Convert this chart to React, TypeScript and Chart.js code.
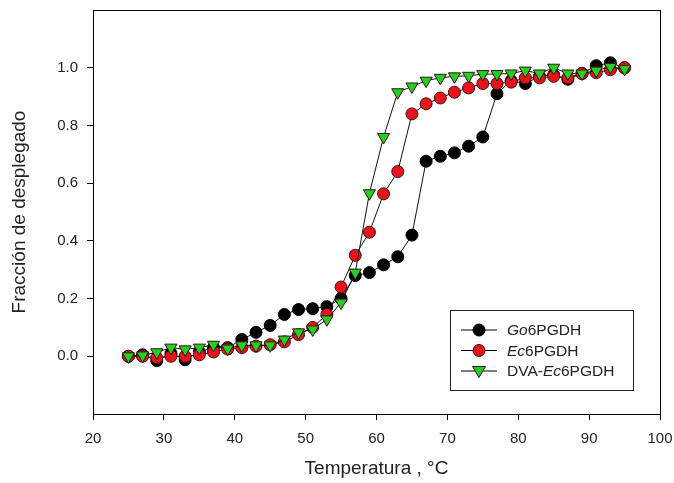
import React, { useEffect, useRef } from "react";
import { Chart, registerables } from "chart.js";

Chart.register(...registerables);

const temperatures = [
  25, 27, 29, 31, 33, 35, 37, 39, 41, 43, 45, 47, 49, 51, 53, 55, 57, 59,
  61, 63, 65, 67, 69, 71, 73, 75, 77, 79, 81, 83, 85, 87, 89, 91, 93, 95,
];

const goValues = [
  0.0, 0.005, -0.015, 0.01, -0.012, 0.015, 0.03, 0.03, 0.058, 0.083, 0.107,
  0.145, 0.162, 0.165, 0.172, 0.2, 0.28, 0.29, 0.317, 0.345, 0.42, 0.676,
  0.693, 0.705, 0.728, 0.76, 0.91, 0.955, 0.945, 0.97, 0.975, 0.96, 0.98,
  1.007, 1.017, 1.0,
];

const ecValues = [
  0.0, 0.0, -0.005, 0.0, 0.0, 0.005, 0.015, 0.025, 0.03, 0.035, 0.04, 0.05,
  0.075, 0.1, 0.145, 0.24, 0.35, 0.43, 0.563, 0.64, 0.84, 0.875, 0.895,
  0.915, 0.93, 0.945, 0.945, 0.95, 0.965, 0.965, 0.97, 0.965, 0.98, 0.983,
  0.993, 1.0,
];

const dvaValues = [
  0.0, 0.003, 0.014, 0.03, 0.024, 0.03, 0.04, 0.027, 0.038, 0.038, 0.038,
  0.058, 0.083, 0.093, 0.128, 0.186, 0.29, 0.565, 0.76, 0.915, 0.935, 0.955,
  0.965, 0.97, 0.972, 0.978, 0.978, 0.98, 0.99, 0.98, 1.0, 0.98, 0.98, 0.99,
  1.003, 0.996,
];

// legend label parts: [text, italic]
const legendLabels: [string, boolean][][] = [
  [["Go", true], ["6PGDH", false]],
  [["Ec", true], ["6PGDH", false]],
  [["DVA-", false], ["Ec", true], ["6PGDH", false]],
];

const xTitle = "Temperatura , °C";
const yTitle = "Fracción de desplegado";

const FONT = "Arial, 'Liberation Sans', sans-serif";
const BLACK = "#000000";
const RED = "#e8141c";
const GREEN = "#22d022";
const EDGE = "#3a1010";

const framePlugin = {
  id: "frame",
  afterDraw(chart: any) {
    const { ctx, chartArea } = chart;
    ctx.save();
    ctx.strokeStyle = "#000";
    ctx.lineWidth = 1;
    ctx.strokeRect(
      Math.round(chartArea.left) + 0.5,
      Math.round(chartArea.top) + 0.5,
      Math.round(chartArea.right - chartArea.left),
      Math.round(chartArea.bottom - chartArea.top)
    );
    ctx.restore();
  },
};

const legendPlugin = {
  id: "customLegend",
  afterDraw(chart: any) {
    const { ctx, chartArea } = chart;
    const boxRight = chartArea.right - 27;
    const boxLeft = boxRight - 183;
    const boxTop = chartArea.top + 300;
    const boxBottom = boxTop + 80;
    ctx.save();
    ctx.fillStyle = "#fff";
    ctx.fillRect(boxLeft, boxTop, boxRight - boxLeft, boxBottom - boxTop);
    ctx.strokeStyle = "#222";
    ctx.lineWidth = 1;
    ctx.strokeRect(boxLeft + 0.5, boxTop + 0.5, boxRight - boxLeft, boxBottom - boxTop);
    const styles = [
      { fill: BLACK, shape: "circle" },
      { fill: RED, shape: "circle" },
      { fill: GREEN, shape: "triangle" },
    ];
    legendLabels.forEach((parts, i) => {
      const y = boxTop + 20 + i * 20.5;
      const lx0 = boxLeft + 11;
      const lx1 = boxLeft + 47;
      const mx = (lx0 + lx1) / 2;
      ctx.strokeStyle = "#000";
      ctx.lineWidth = 1;
      ctx.beginPath();
      ctx.moveTo(lx0, y);
      ctx.lineTo(lx1, y);
      ctx.stroke();
      ctx.fillStyle = styles[i].fill;
      ctx.strokeStyle = i === 0 ? "#000" : EDGE;
      ctx.beginPath();
      if (styles[i].shape === "circle") {
        ctx.arc(mx, y, 6, 0, Math.PI * 2);
      } else {
        ctx.moveTo(mx - 6.5, y - 4.5);
        ctx.lineTo(mx + 6.5, y - 4.5);
        ctx.lineTo(mx, y + 6.5);
        ctx.closePath();
      }
      ctx.fill();
      ctx.stroke();
      let tx = boxLeft + 57;
      ctx.fillStyle = "#222";
      ctx.textBaseline = "middle";
      ctx.textAlign = "left";
      parts.forEach(([text, italic]) => {
        ctx.font = `${italic ? "italic " : ""}15.5px ${FONT}`;
        ctx.fillText(text, tx, y + 1);
        tx += ctx.measureText(text).width;
      });
    });
    ctx.restore();
  },
};

function makePoints(values: number[]) {
  return temperatures.map((t, i) => ({ x: t, y: values[i] }));
}

export default function App() {
  const canvasRef = useRef<HTMLCanvasElement | null>(null);

  useEffect(() => {
    document.body.style.margin = "0";
    const canvas = canvasRef.current;
    if (!canvas) return;
    const chart = new Chart(canvas, {
      type: "line",
      data: {
        datasets: [
          {
            label: "Go6PGDH",
            data: makePoints(goValues),
            borderColor: "#111",
            borderWidth: 1,
            pointBackgroundColor: BLACK,
            pointBorderColor: "#000",
            pointBorderWidth: 1,
            pointRadius: 6,
            pointStyle: "circle",
            order: 3,
          },
          {
            label: "Ec6PGDH",
            data: makePoints(ecValues),
            borderColor: "#111",
            borderWidth: 1,
            pointBackgroundColor: RED,
            pointBorderColor: EDGE,
            pointBorderWidth: 1,
            pointRadius: 6,
            pointStyle: "circle",
            order: 2,
          },
          {
            label: "DVA-Ec6PGDH",
            data: makePoints(dvaValues),
            borderColor: "#111",
            borderWidth: 1,
            pointBackgroundColor: GREEN,
            pointBorderColor: EDGE,
            pointBorderWidth: 1,
            pointRadius: 7,
            pointStyle: "triangle",
            pointRotation: 180,
            order: 1,
          },
        ],
      },
      options: {
        animation: false,
        responsive: false,
        maintainAspectRatio: false,
        layout: { padding: { top: 10, right: 14, bottom: 0, left: 0 } },
        plugins: {
          legend: { display: false },
          tooltip: { enabled: false },
        },
        elements: { line: { tension: 0 } },
        scales: {
          x: {
            type: "linear",
            min: 20,
            max: 100,
            afterFit: (scale: any) => {
              scale.height = 69;
              scale.paddingLeft = 0;
              scale.paddingRight = 0;
            },
            ticks: {
              stepSize: 10,
              color: "#222",
              font: { family: FONT, size: 15 },
              padding: 10,
              maxRotation: 0,
            },
            grid: {
              display: true,
              drawOnChartArea: false,
              drawTicks: true,
              tickLength: 6,
              color: "#000",
            },
            border: { display: true, color: "#000", width: 1 },
            title: {
              display: true,
              text: xTitle,
              color: "#222",
              font: { family: FONT, size: 19 },
              padding: { top: 0, bottom: 3 },
            },
          },
          y: {
            type: "linear",
            min: -0.2,
            max: 1.2,
            afterFit: (scale: any) => {
              scale.width = 93;
              scale.paddingTop = 0;
              scale.paddingBottom = 0;
            },
            afterBuildTicks: (scale: any) => {
              scale.ticks = scale.ticks.filter(
                (t: any) => t.value > -0.001 && t.value < 1.001
              );
            },
            ticks: {
              stepSize: 0.2,
              color: "#222",
              font: { family: FONT, size: 15 },
              padding: 9,
              callback: (v: any) => {
                const n = Number(v);
                return (Math.abs(n) < 1e-9 ? 0 : n).toFixed(1);
              },
            },
            grid: {
              display: true,
              drawOnChartArea: false,
              drawTicks: true,
              tickLength: 6,
              color: "#000",
            },
            border: { display: true, color: "#000", width: 1 },
            title: {
              display: true,
              text: yTitle,
              color: "#222",
              font: { family: FONT, size: 19 },
              padding: { top: 8, bottom: 0 },
            },
          },
        },
      },
      plugins: [framePlugin, legendPlugin],
    });
    return () => chart.destroy();
  }, []);

  return (
    <div style={{ width: 674, height: 483 }}>
      <canvas ref={canvasRef} width={674} height={483} style={{ display: "block" }} />
    </div>
  );
}
